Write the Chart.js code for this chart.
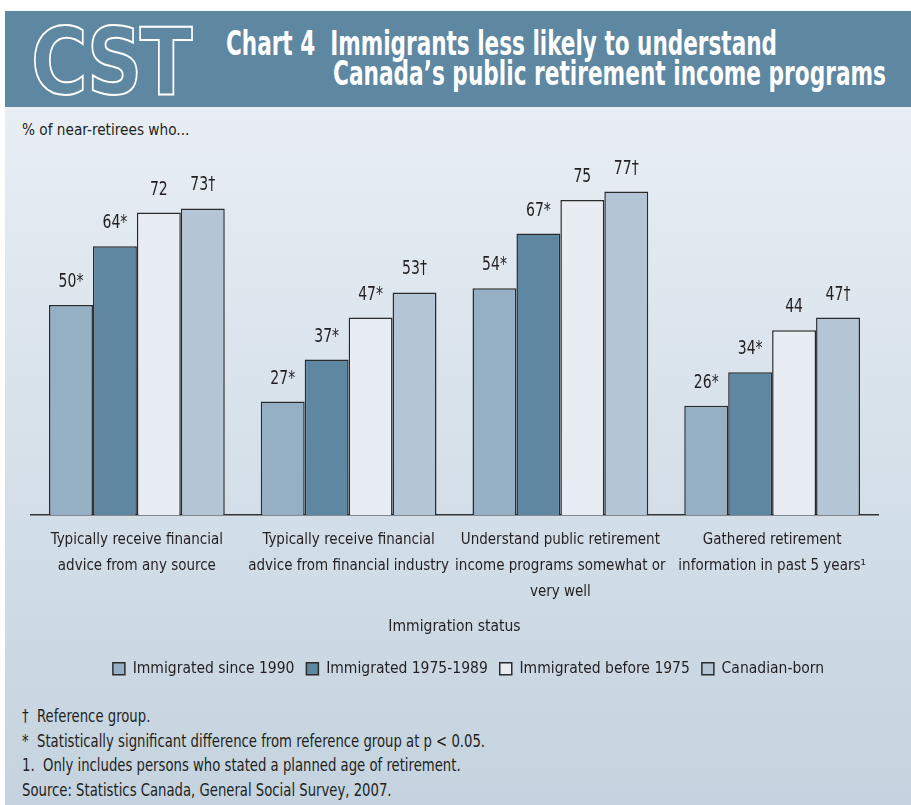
<!DOCTYPE html>
<html>
<head>
<meta charset="utf-8">
<script src="https://cdn.jsdelivr.net/npm/chart.js@4"></script>
<style>
  html, body { margin: 0; padding: 0; background: #fff; }
  body { width: 911px; height: 805px; position: relative; overflow: hidden;
         font-family: "DejaVu Sans Condensed", sans-serif; color: #231f20; }
  #panel { position: absolute; left: 5px; top: 107px; right: 0; bottom: 0;
           background: linear-gradient(#e8eef4, #c4d3df); }
  #head { position: absolute; left: 5px; top: 11px; right: 0; height: 96px; background: #5e87a2; }
  #logo { position: absolute; left: 26px; top: 6px; font: bold 92px "DejaVu Sans", sans-serif;
          color: #5e87a2; -webkit-text-stroke: 2px #fff; letter-spacing: -3px;
          transform: scaleX(0.84); transform-origin: left top; line-height: 92px; }
  .t { position: absolute; color: #fff; font-weight: bold; font-size: 34px; white-space: nowrap;
       line-height: 34px; transform-origin: left top; }
  #sub { position: absolute; left: 22px; top: 120px; font-size: 16px; white-space: nowrap;
         transform: scaleX(0.95); transform-origin: left top; }
  #wrap { position: absolute; left: 0; top: 110px; width: 911px; height: 590px; }
  #notes { position: absolute; left: 22px; top: 704px; font-size: 17px; line-height: 24.7px;
           white-space: nowrap; transform: scaleX(0.865); transform-origin: left top; }
</style>
</head>
<body>
<div id="panel"></div>
<div id="head">
  <div id="logo">CST</div>
  <div class="t" data-w="551" style="left:221px; top:15px;">Chart 4&nbsp; Immigrants less likely to understand</div>
  <div class="t" data-w="553" style="left:328px; top:45px;">Canada’s public retirement income programs</div>
</div>
<div id="sub">% of near-retirees who...</div>
<div id="wrap"><canvas id="chart"></canvas></div>
<div id="notes">
  †&nbsp; Reference group.<br>
  *&nbsp; Statistically significant difference from reference group at p &lt; 0.05.<br>
  1.&nbsp; Only includes persons who stated a planned age of retirement.<br>
  Source: Statistics Canada, General Social Survey, 2007.
</div>
<script>
const categories = [
  ['Typically receive financial', 'advice from any source'],
  ['Typically receive financial', 'advice from financial industry'],
  ['Understand public retirement', 'income programs somewhat or', 'very well'],
  ['Gathered retirement', 'information in past 5 years¹']
];
const seriesNames = ['Immigrated since 1990', 'Immigrated 1975-1989', 'Immigrated before 1975', 'Canadian-born'];
const since1990 = [50, 27, 54, 26];
const from1975to1989 = [64, 37, 67, 34];
const before1975 = [72, 47, 75, 44];
const canadianBorn = [73, 53, 77, 47];
const since1990Marks = ['*', '*', '*', '*'];
const from1975to1989Marks = ['*', '*', '*', '*'];
const before1975Marks = ['', '*', '', ''];
const canadianBornMarks = ['†', '†', '†', '†'];

const colors = ['#95b0c5', '#5e87a2', '#e7edf3', '#b4c6d6'];
const narrow = '"DejaVu Sans Condensed", sans-serif';

const values = [since1990, from1975to1989, before1975, canadianBorn];
const marks = [since1990Marks, from1975to1989Marks, before1975Marks, canadianBornMarks];

// ajustar el ancho de los titulos
document.querySelectorAll('.t').forEach(el => {
  el.style.display = 'inline-block';
  const w = el.getBoundingClientRect().width;
  el.style.transform = 'scaleX(' + (el.dataset.w / w) + ')';
});

// etiquetas encima de cada barra
const barLabels = {
  id: 'barLabels',
  afterLayout(chart) {
    // la leyenda original esta un poco a la derecha
    chart.legend.left += 14;
    chart.legend.right += 14;
  },
  afterDatasetsDraw(chart) {
    const ctx = chart.ctx;
    chart.data.datasets.forEach((ds, i) => {
      chart.getDatasetMeta(i).data.forEach((bar, j) => {
        ctx.save();
        ctx.font = '19px ' + narrow;
        ctx.fillStyle = '#231f20';
        ctx.textAlign = 'center';
        ctx.textBaseline = 'alphabetic';
        ctx.translate(bar.x, bar.y - 18);
        ctx.scale(0.82, 1);
        ctx.fillText(ds.data[j] + marks[i][j], 0, 0);
        ctx.restore();
      });
    });
  }
};

new Chart(document.getElementById('chart'), {
  type: 'bar',
  data: {
    labels: categories,
    datasets: seriesNames.map((name, i) => ({
      label: name,
      data: values[i],
      backgroundColor: colors[i],
      borderColor: '#2b2b2b',
      borderWidth: 1.5,
      borderSkipped: 'bottom',
      categoryPercentage: 0.83,
      barPercentage: 1
    }))
  },
  options: {
    responsive: true,
    maintainAspectRatio: false,
    animation: false,
    layout: { padding: { left: 31, right: 33, top: 27, bottom: 13.5 } },
    scales: {
      y: { display: false, min: 0, max: 90 },
      x: {
        grid: { display: false, drawTicks: false },
        border: { display: true, color: '#333', width: 1.5 },
        ticks: { color: '#231f20', padding: 12, font: { family: narrow, size: 15, lineHeight: 1.73 }, maxRotation: 0, autoSkip: false },
        title: { display: true, text: 'Immigration status', color: '#231f20', font: { family: narrow, size: 15.5, lineHeight: 1.2 }, padding: { top: 4, bottom: 13 } },
        afterFit(scale) { scale.height = 134; }
      }
    },
    plugins: {
      legend: {
        position: 'bottom',
        labels: { color: '#231f20', boxWidth: 12, boxHeight: 12, padding: 12, font: { family: narrow, size: 15.5 } }
      },
      tooltip: { enabled: false }
    }
  },
  plugins: [barLabels]
});
</script>
</body>
</html>
